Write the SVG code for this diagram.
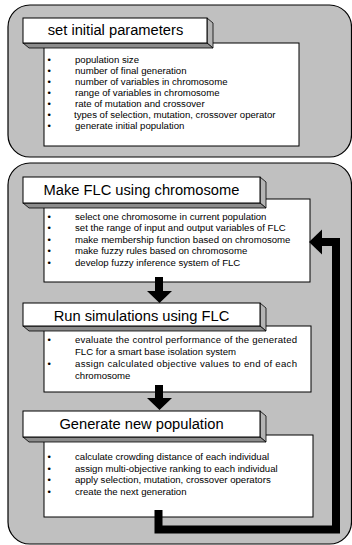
<svg xmlns="http://www.w3.org/2000/svg" width="352" height="545" viewBox="0 0 352 545">
<style>
.panel{fill:#c0c0c0;stroke:#000;stroke-width:1.2}
.box{fill:#fff;stroke:#000;stroke-width:1}
.front{fill:#fff;stroke:#000;stroke-width:1}
.side{fill:#b4b4b4;stroke:#000;stroke-width:0.8}
.bot{fill:#8c8c8c;stroke:#000;stroke-width:0.8}
.title{font-family:"Liberation Sans",Arial,sans-serif;font-size:14.7px;fill:#000;text-anchor:middle}
.t{font-family:"Liberation Sans",Arial,sans-serif;font-size:9.6px;fill:#000}
.conn{fill:#000;stroke:none}
.loop{fill:none;stroke:#000;stroke-width:8;stroke-linejoin:miter}
</style>
<rect class="panel" x="8" y="5" width="343.5" height="152" rx="22"/>
<rect class="panel" x="8" y="163" width="343.5" height="381" rx="22"/>

<g id="node-init">
<rect class="box" x="44" y="43" width="255" height="103"/>
<polygon class="side" points="207,18 213,23 213,48 207,43"/>
<polygon class="bot" points="23,43 207,43 213,48 29,48"/>
<rect class="front" x="23" y="18" width="184" height="25"/>
<text class="title" x="115.5" y="35">set initial parameters</text>
<text class="t" x="47.5" y="62.5">•</text><text class="t" x="75" y="62.5">population size</text>
<text class="t" x="47.5" y="73.6">•</text><text class="t" x="75" y="73.6">number of final generation</text>
<text class="t" x="47.5" y="84.7">•</text><text class="t" x="75" y="84.7">number of variables in chromosome</text>
<text class="t" x="47.5" y="95.8">•</text><text class="t" x="75" y="95.8">range of variables in chromosome</text>
<text class="t" x="47.5" y="106.9">•</text><text class="t" x="75" y="106.9">rate of mutation and crossover</text>
<text class="t" x="47.5" y="118">•</text><text class="t" x="74" y="118">types of selection, mutation, crossover operator</text>
<text class="t" x="47.5" y="129.1">•</text><text class="t" x="75" y="129.1">generate initial population</text>
</g>

<g id="node-make-flc">
<rect class="box" x="44" y="199" width="266" height="83"/>
<polygon class="side" points="260,177 266,182 266,208 260,203"/>
<polygon class="bot" points="23,203 260,203 266,208 29,208"/>
<rect class="front" x="23" y="177" width="237" height="26"/>
<text class="title" x="141.5" y="194.5">Make FLC using chromosome</text>
<text class="t" x="47.5" y="219.5">•</text><text class="t" x="75" y="219.5">select one chromosome in current population</text>
<text class="t" x="47.5" y="231.1">•</text><text class="t" x="75" y="231.1">set the range of input and output variables of FLC</text>
<text class="t" x="47.5" y="242.7">•</text><text class="t" x="75" y="242.7">make membership function based on chromosome</text>
<text class="t" x="47.5" y="254.3">•</text><text class="t" x="75" y="254.3">make fuzzy rules based on chromosome</text>
<text class="t" x="47.5" y="265.9">•</text><text class="t" x="75" y="265.9">develop fuzzy inference system of FLC</text>
</g>

<g id="node-run-sim">
<rect class="box" x="44" y="326" width="267" height="66"/>
<polygon class="side" points="260,303 266,308 266,331 260,326"/>
<polygon class="bot" points="23,326 260,326 266,331 29,331"/>
<rect class="front" x="23" y="303" width="237" height="23"/>
<text class="title" x="141.5" y="320.5">Run simulations using FLC</text>
<text class="t" x="47.5" y="343.3">•</text><text class="t" x="75" y="343.3" textLength="222" lengthAdjust="spacing">evaluate the control performance of the generated</text>
<text class="t" x="75" y="355">FLC for a smart base isolation system</text>
<text class="t" x="47.5" y="367.2">•</text><text class="t" x="75" y="367.2" textLength="222" lengthAdjust="spacing">assign calculated objective values to end of each</text>
<text class="t" x="75" y="379">chromosome</text>
</g>

<g id="node-generate">
<rect class="box" x="44" y="435" width="269" height="82"/>
<polygon class="side" points="260,411 266,416 266,442 260,437"/>
<polygon class="bot" points="23,437 260,437 266,442 29,442"/>
<rect class="front" x="23" y="411" width="237" height="26"/>
<text class="title" x="141.5" y="428.5">Generate new population</text>
<text class="t" x="47.5" y="460">•</text><text class="t" x="75" y="460">calculate crowding distance of each individual</text>
<text class="t" x="47.5" y="471.5">•</text><text class="t" x="75" y="471.5">assign multi-objective ranking to each individual</text>
<text class="t" x="47.5" y="483">•</text><text class="t" x="75" y="483">apply selection, mutation, crossover operators</text>
<text class="t" x="47.5" y="494.5">•</text><text class="t" x="75" y="494.5">create the next generation</text>
</g>

<g id="connectors">
<polygon class="conn" points="155,277 163,277 163,291 172,291 159.5,303 147,291 155,291"/>
<polygon class="conn" points="155,385 163,385 163,398 172,398 159.5,410 147,398 155,398"/>
<polyline class="loop" points="158.5,510 158.5,529.5 336,529.5 336,242 320,242"/>
<polygon class="conn" points="322,229.5 322,254.5 309,242"/>
</g>
</svg>
